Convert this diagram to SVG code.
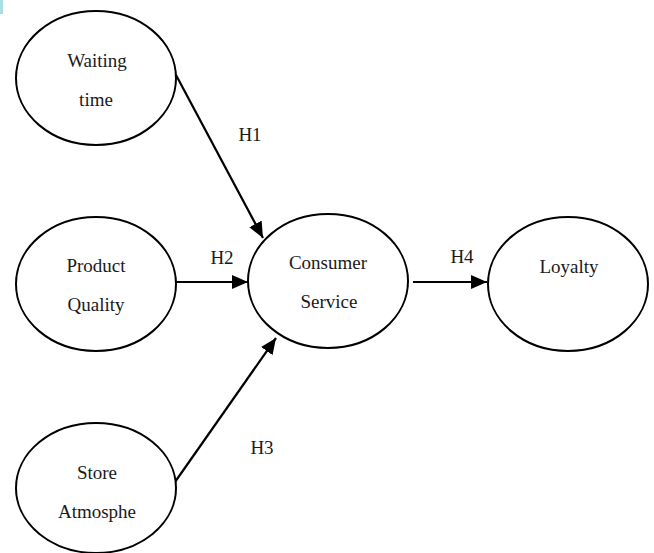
<svg xmlns="http://www.w3.org/2000/svg" width="654" height="553" viewBox="0 0 654 553">
<style>
.node ellipse{fill:#fff;stroke:#000;stroke-width:2}
.conn line{stroke:#000;stroke-width:2.2}
</style>
<defs>
<marker id="ah" markerUnits="userSpaceOnUse" markerWidth="17" markerHeight="15" refX="16" refY="7" orient="auto">
<path d="M0,0 L16,7 L0,14 z" fill="#000"/>
</marker>
</defs>
<rect x="0" y="0" width="3" height="14" fill="#a6e0e3"/>
<g font-family="'Liberation Serif', 'Times New Roman', 'DejaVu Serif', serif" font-size="19" fill="#1a1a1a" text-anchor="middle">
<g class="conn" id="connectors">
<line x1="176" y1="75" x2="263" y2="238" marker-end="url(#ah)"/>
<line x1="176" y1="282" x2="248" y2="282" marker-end="url(#ah)"/>
<line x1="175" y1="482" x2="276" y2="338" marker-end="url(#ah)"/>
<line x1="413" y1="282" x2="487" y2="282" marker-end="url(#ah)"/>
<text x="250" y="141">H1</text>
<text x="222" y="264">H2</text>
<text x="262" y="454">H3</text>
<text x="462" y="263">H4</text>
</g>
<g class="node" id="waiting">
<ellipse cx="96" cy="78" rx="80" ry="67"/>
<text x="97" y="67">Waiting</text>
<text x="96" y="106">time</text>
</g>
<g class="node" id="product">
<ellipse cx="96" cy="284" rx="80" ry="67"/>
<text x="96" y="272">Product</text>
<text x="96" y="311">Quality</text>
</g>
<g class="node" id="store">
<ellipse cx="96" cy="488" rx="80" ry="65"/>
<text x="97" y="479">Store</text>
<text x="97" y="518">Atmosphe</text>
</g>
<g class="node" id="consumer">
<ellipse cx="328" cy="281" rx="80" ry="67"/>
<text x="328" y="269">Consumer</text>
<text x="329" y="308">Service</text>
</g>
<g class="node" id="loyalty">
<ellipse cx="568" cy="284" rx="80" ry="67"/>
<text x="569" y="273">Loyalty</text>
</g>
</g>
</svg>
